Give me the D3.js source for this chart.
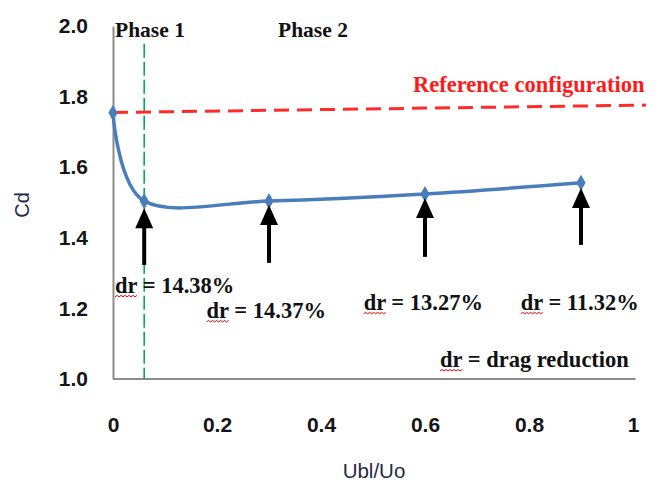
<!DOCTYPE html>
<html>
<head>
<meta charset="utf-8">
<script src="https://cdn.jsdelivr.net/npm/d3@7"></script>
<style>
  html, body { margin: 0; padding: 0; background: #fff; }
  svg { display: block; }
</style>
</head>
<body>
<svg id="chart" width="657" height="483"></svg>
<script>
// ---- data ----
const ublRatio = [0, 0.06, 0.3, 0.6, 0.9];
const cdValues = [1.754, 1.504, 1.504, 1.524, 1.556];
const refX = [0, 1.025];
const refCd = [1.755, 1.776];
const phaseBoundary = 0.06;
const arrowX = [0.06, 0.3, 0.6, 0.9];
const arrowTip = [1.484, 1.493, 1.513, 1.541];
const arrowBase = [1.323, 1.329, 1.346, 1.380];
const drLabels = ["14.38%", "14.37%", "13.27%", "11.32%"];
const drLabelX = [0.004, 0.18, 0.482, 0.784];
const drLabelCd = [1.244, 1.173, 1.196, 1.196];
const xTicks = [0, 0.2, 0.4, 0.6, 0.8, 1];
const yTicks = [1.0, 1.2, 1.4, 1.6, 1.8, 2.0];

const svg = d3.select("#chart");
const x = d3.scaleLinear().domain([0, 1]).range([113, 633]);
const y = d3.scaleLinear().domain([1, 2]).range([379, 26]);

const serif = "'Liberation Serif', 'Times New Roman', serif";
const sans = "'Liberation Sans', Arial, sans-serif";

// ---- axes ----
const yAxis = d3.axisLeft(y).tickValues(yTicks).tickSize(0).tickPadding(25)
  .tickFormat(d3.format(".1f"));
const gy = svg.append("g").attr("transform", `translate(${x(0)},0)`).call(yAxis);
gy.select(".domain").attr("stroke", "#8c8c8c").attr("stroke-width", 2);
gy.selectAll("text").attr("font-family", sans).attr("font-weight", "bold")
  .attr("font-size", 21).attr("fill", "#151515");

const xAxis = d3.axisBottom(x).tickValues(xTicks).tickSize(0).tickPadding(38)
  .tickFormat(d => (d === 0 || d === 1) ? String(d) : d.toFixed(1));
const gx = svg.append("g").attr("transform", `translate(0,${y(1)})`).call(xAxis);
gx.select(".domain").attr("stroke", "#8c8c8c").attr("stroke-width", 2)
  .attr("d", `M0,0H${x(1.005) - x(0)}`).attr("transform", `translate(${x(0)},0)`);
gx.selectAll("text").attr("font-family", sans).attr("font-weight", "bold")
  .attr("font-size", 21).attr("fill", "#151515");

// axis titles
svg.append("text").attr("transform", `translate(29,205) rotate(-90)`)
  .attr("text-anchor", "middle").attr("font-family", sans).attr("font-size", 20)
  .attr("fill", "#1f2a48").text("Cd");
svg.append("text").attr("x", 374).attr("y", 478)
  .attr("text-anchor", "middle").attr("font-family", sans).attr("font-size", 20.5)
  .attr("fill", "#1f2a48").text("Ubl/Uo");

// ---- phase boundary (green dashed) ----
svg.append("line")
  .attr("x1", x(phaseBoundary)).attr("x2", x(phaseBoundary))
  .attr("y1", y(1.95)).attr("y2", y(1))
  .attr("stroke", "#00b050").attr("stroke-width", 1.6)
  .attr("stroke-dasharray", "14,4");

// ---- reference configuration line ----
svg.append("path")
  .datum(refX.map((d, i) => [d, refCd[i]]))
  .attr("d", d3.line().x(d => x(d[0])).y(d => y(d[1])))
  .attr("fill", "none").attr("stroke", "#ff2a2a").attr("stroke-width", 3)
  .attr("stroke-dasharray", "15,8");

// ---- Cd curve ----
const pts = ublRatio.map((d, i) => [d, cdValues[i]]);
svg.append("path").datum(pts)
  .attr("d", d3.line().x(d => x(d[0])).y(d => y(d[1])).curve(d3.curveCardinal.tension(0)))
  .attr("fill", "none").attr("stroke", "#4a7ebb").attr("stroke-width", 3.5);
svg.selectAll(".mk").data(pts).enter().append("path")
  .attr("transform", d => `translate(${x(d[0])},${y(d[1])})`)
  .attr("d", d3.symbol(d3.symbolDiamond, 75))
  .attr("fill", "#4a7ebb");

// ---- arrows ----
arrowX.forEach((ax, i) => {
  const cx = x(ax), tip = y(arrowTip[i]), base = y(arrowBase[i]);
  const headLen = 20, headHalf = 9;
  svg.append("line").attr("x1", cx).attr("x2", cx)
    .attr("y1", tip + headLen - 1).attr("y2", base)
    .attr("stroke", "#000").attr("stroke-width", 4);
  svg.append("path")
    .attr("d", `M${cx},${tip}L${cx + headHalf},${tip + headLen}L${cx - headHalf},${tip + headLen}Z`)
    .attr("fill", "#000");
});

// ---- text annotations ----
function wavy(x0, x1, yy) {
  let d = `M${x0},${yy}`;
  let up = true;
  for (let xx = x0 + 2; xx <= x1; xx += 2) { d += `L${xx},${yy + (up ? -1.5 : 0)}`; up = !up; }
  return d;
}
function drText(tx, ty, rest) {
  const t = svg.append("text").attr("x", tx).attr("y", ty)
    .attr("font-family", serif).attr("font-weight", "bold").attr("font-size", 22.5)
    .attr("fill", "#111").text("dr = " + rest);
  const w = t.node().getSubStringLength(0, 2);
  svg.append("path").attr("d", wavy(tx, tx + w, ty + 4))
    .attr("fill", "none").attr("stroke", "#e00000").attr("stroke-width", 1);
}
drLabels.forEach((lbl, i) => drText(x(drLabelX[i]), y(drLabelCd[i]), lbl));
drText(440, 367, "drag reduction");

svg.append("text").attr("x", 115).attr("y", 37)
  .attr("font-family", serif).attr("font-weight", "bold").attr("font-size", 21.5)
  .attr("fill", "#111").text("Phase 1");
svg.append("text").attr("x", 278).attr("y", 37)
  .attr("font-family", serif).attr("font-weight", "bold").attr("font-size", 21.5)
  .attr("fill", "#111").text("Phase 2");
svg.append("text").attr("x", 413).attr("y", 92)
  .attr("font-family", serif).attr("font-weight", "bold").attr("font-size", 22.5)
  .attr("fill", "#ff1a1a").text("Reference configuration");
</script>
</body>
</html>
